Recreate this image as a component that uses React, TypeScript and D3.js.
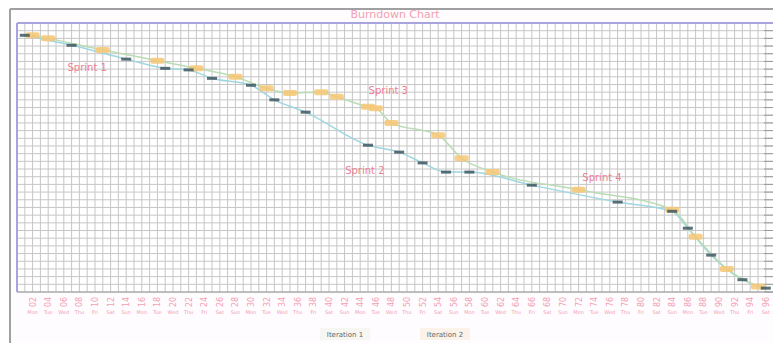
import React from "react";
import * as d3 from "d3";

const title = "Burndown Chart";
const legendLabels = ["Iteration 1", "Iteration 2"];

const s1Days = [1, 7, 14, 19, 22, 25, 30, 33, 37, 45, 49, 52, 55, 58, 66, 77, 84, 86, 89, 93, 96];
const s1Vals = [334, 321, 303, 291, 289, 278, 269, 250, 234, 191, 182, 168, 156, 156, 139, 117, 105, 83, 48, 16, 5];

const s2Days = [2, 4, 11, 18, 23, 28, 32, 35, 39, 41, 45, 46, 48, 54, 57, 61, 72, 84, 87, 91, 95];
const s2Vals = [334, 330, 315, 301, 291, 280, 265, 259, 260, 254, 241, 239, 220, 204, 174, 156, 133, 107, 72, 30, 7];

const noteTexts = ["Sprint 1", "Sprint 3", "Sprint 2", "Sprint 4"];
const noteDays = [9, 47.6, 44.6, 75];
const noteVals = [293, 263, 159, 150];

const tickDays = d3.range(2, 97, 2);
const weekdays = ["Mon", "Tue", "Wed", "Thu", "Fri", "Sat", "Sun"];

export default function App() {
  const W = 773, H = 343;
  const x = d3.scaleLinear().domain([0, 97]).range([17, 17 + 97 * 7.8]);
  const y = d3.scaleLinear().domain([0, 350]).range([292, 23]);
  const line = d3.line<[number, number]>().x(d => x(d[0])).y(d => y(d[1])).curve(d3.curveMonotoneX);
  const s1 = s1Days.map((d, i) => [d, s1Vals[i]] as [number, number]);
  const s2 = s2Days.map((d, i) => [d, s2Vals[i]] as [number, number]);
  const vLines = d3.range(0, 98);
  const hLines = d3.range(0, 351, 10);
  const font = "DejaVu Sans, sans-serif";
  return (
    <svg width={W} height={H} style={{ position: "absolute", left: 0, top: 0 }} fontFamily={font}>
      <rect x={0} y={0} width={W} height={H} fill="#fff" />
      <rect x={10} y={9} width={W - 10} height={H - 9} fill="#fefcfe" />
      <line x1={10} y1={9} x2={W} y2={9} stroke="#a0a0a0" strokeWidth={2} />
      <line x1={10} y1={9} x2={10} y2={H} stroke="#a0a0a0" strokeWidth={2} />
      <text x={395} y={18} textAnchor="middle" fontSize={11} fill="#f4a0b0">{title}</text>
      <rect x={17} y={23} width={W - 17} height={269} fill="#fff" />
      {vLines.map(d => (
        <line key={"v" + d} x1={x(d)} x2={x(d)} y1={23} y2={292} stroke="#c6c6c6" strokeWidth={1} />
      ))}
      {hLines.map(v => (
        <line key={"h" + v} x1={17} x2={W} y1={y(v)} y2={y(v)} stroke="#c6c6c6" strokeWidth={1} />
      ))}
      {hLines.map(v => (
        <line key={"r" + v} x1={764} x2={W} y1={y(v)} y2={y(v)} stroke="#9a9a9a" strokeWidth={1} />
      ))}
      <line x1={17} x2={W} y1={292} y2={292} stroke="#9a9a9a" strokeWidth={1} />
      <line x1={17} x2={W} y1={23} y2={23} stroke="#a8a4e0" strokeWidth={2} />
      <line x1={17} x2={17} y1={23} y2={292} stroke="#a8a4e0" strokeWidth={2} />
      <path d={line(s1) || ""} fill="none" stroke="#9fd6e0" strokeWidth={1.5} />
      <path d={line(s2) || ""} fill="none" stroke="#b9dcb4" strokeWidth={1.5} />
      {s2.map((p, i) => (
        <rect key={"m2" + i} x={x(p[0]) - 7} y={y(p[1]) - 3} width={14} height={6} rx={2} fill="#f6c774" opacity={0.85} />
      ))}
      {s1.map((p, i) => (
        <rect key={"m1" + i} x={x(p[0]) - 5} y={y(p[1]) - 1.5} width={10} height={3} fill="#3f5862" opacity={0.85} />
      ))}
      {noteTexts.map((t, i) => (
        <text key={"n" + i} x={x(noteDays[i])} y={y(noteVals[i]) + 4} textAnchor="middle" fontSize={10} fill="#ee8094">{t}</text>
      ))}
      {tickDays.map((d, i) => (
        <g key={"t" + d}>
          <text transform={`translate(${x(d) + 3},${307}) rotate(-90)`} fontSize={8} fill="#f2a0b2">{String(d).padStart(2, "0")}</text>
          <text x={x(d)} y={314} textAnchor="middle" fontSize={5} fill="#f2a0b2">{weekdays[i % 7]}</text>
        </g>
      ))}
      {legendLabels.map((l, i) => (
        <g key={"l" + i}>
          <rect x={320 + i * 100} y={328} width={50} height={12} fill={i === 0 ? "#f6f6f2" : "#fbf2ea"} />
          <text x={345 + i * 100} y={337} textAnchor="middle" fontSize={7} fill="#666">{l}</text>
        </g>
      ))}
    </svg>
  );
}
